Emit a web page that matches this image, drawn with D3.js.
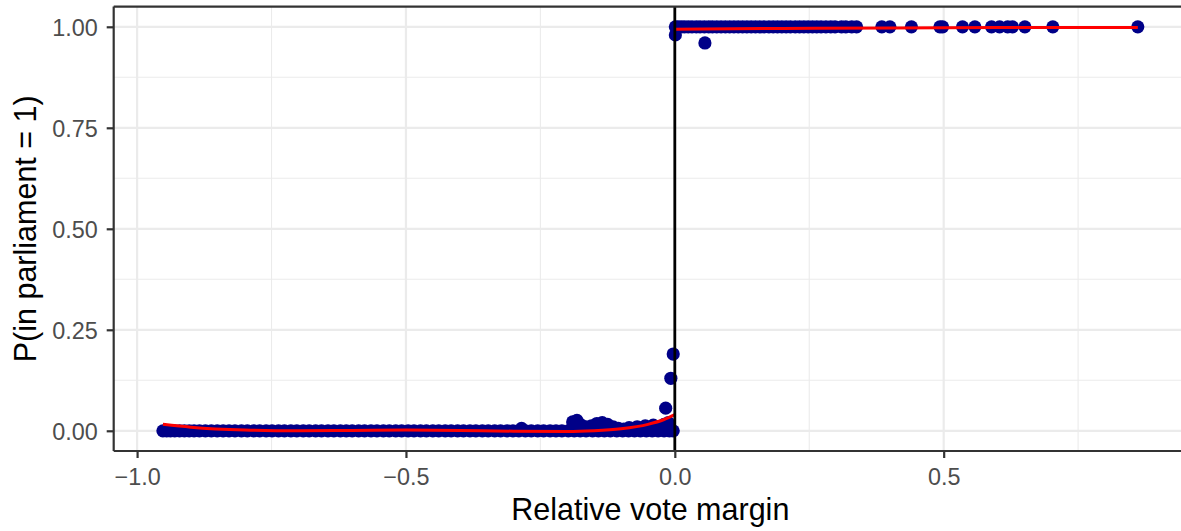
<!DOCTYPE html>
<html><head><meta charset="utf-8">
<script src="https://cdn.jsdelivr.net/npm/d3@7"></script>
<style>html,body{margin:0;padding:0;background:#fff;overflow:hidden}svg{display:block}</style>
</head><body>
<svg id="c" width="1181" height="531" style="overflow:hidden"></svg>
<script>
// ---- data ----
const xTicks = [-1.0, -0.5, 0.0, 0.5];
const xTickLabels = ["\u22121.0", "\u22120.5", "0.0", "0.5"];
const xMinor = [-0.75, -0.25, 0.25, 0.75];
const yTicks = [0, 0.25, 0.5, 0.75, 1];
const yTickLabels = ["0.00", "0.25", "0.50", "0.75", "1.00"];
const yMinor = [0.125, 0.375, 0.625, 0.875];

// losers (not in parliament), outcome 0
const loserMargin = [-0.952,-0.945,-0.938,-0.93,-0.921,-0.912,-0.903,-0.894,-0.884,-0.873,-0.862,-0.851,-0.84,-0.829,-0.818,-0.806,-0.795,-0.783,-0.772,-0.76,-0.749,-0.737,-0.726,-0.714,-0.703,-0.691,-0.68,-0.668,-0.657,-0.645,-0.634,-0.622,-0.611,-0.6,-0.588,-0.577,-0.565,-0.554,-0.542,-0.531,-0.519,-0.508,-0.496,-0.485,-0.473,-0.462,-0.45,-0.439,-0.427,-0.416,-0.404,-0.393,-0.381,-0.37,-0.358,-0.347,-0.335,-0.324,-0.312,-0.301,-0.29,-0.278,-0.267,-0.255,-0.244,-0.232,-0.221,-0.21,-0.198,-0.187,-0.176,-0.165,-0.153,-0.142,-0.131,-0.12,-0.108,-0.097,-0.086,-0.075,-0.064,-0.053,-0.042,-0.031,-0.02,-0.01,-0.003];
// binned points below threshold with non-zero share
const lowBinMargin = [-0.285,-0.19,-0.182,-0.175,-0.165,-0.155,-0.145,-0.135,-0.125,-0.115,-0.105,-0.095,-0.085,-0.07,-0.055,-0.04,-0.03,-0.02,-0.012,-0.017,-0.0074,-0.003];
const lowBinProb   = [0.006,0.022,0.026,0.015,0.01,0.012,0.018,0.02,0.016,0.01,0.006,0.004,0.008,0.01,0.012,0.014,0.01,0.016,0.02,0.056,0.13,0.19];
// winners, outcome 1
const winnerMargin = [0.001,0.006,0.012,0.018,0.025,0.032,0.04,0.047,0.055,0.063,0.07,0.078,0.086,0.094,0.102,0.11,0.118,0.126,0.134,0.142,0.15,0.158,0.166,0.175,0.183,0.191,0.199,0.207,0.215,0.224,0.232,0.24,0.248,0.256,0.264,0.272,0.281,0.29,0.298,0.31,0.318,0.329,0.338,0.385,0.4,0.44,0.493,0.498,0.535,0.558,0.589,0.604,0.619,0.628,0.651,0.703,0.861];
const highBinMargin = [0.001, 0.056];
const highBinProb   = [0.98, 0.96];

// fitted curves
const fitLeftX  = [-0.952,-0.9,-0.8,-0.7,-0.6,-0.5,-0.4,-0.3,-0.2,-0.15,-0.1,-0.05,-0.02,0];
const fitLeftY  = [0.016,0.009,0.002,0.0,0.001,0.002,0.001,-0.001,-0.002,0.0,0.005,0.016,0.028,0.04];
const fitRightX = [0, 0.2, 0.4, 0.6, 0.861];
const fitRightY = [0.994, 0.996, 0.997, 0.998, 0.998];

// ---- layout ----
const svg = d3.select("#c");
const L = 113.7, R = 1187, T = 6.6, B = 451, W = 1181;
const x = d3.scaleLinear().domain([-1.0435, 0.9525]).range([L, R]);
const y = d3.scaleLinear().domain([-0.05, 1.05]).range([B, T]);
const font = "'Liberation Sans', Arial, Helvetica, sans-serif";

svg.append("clipPath").attr("id","pc").append("rect")
  .attr("x", L).attr("y", T).attr("width", W-L).attr("height", B-T);
const panel = svg.append("g").attr("clip-path","url(#pc)");

// grid
panel.selectAll(".xmin").data(xMinor).join("line")
  .attr("x1", d=>x(d)).attr("x2", d=>x(d)).attr("y1", T).attr("y2", B)
  .attr("stroke", "#EBEBEB").attr("stroke-width", 1.1);
panel.selectAll(".ymin").data(yMinor).join("line")
  .attr("y1", d=>y(d)).attr("y2", d=>y(d)).attr("x1", L).attr("x2", W)
  .attr("stroke", "#EBEBEB").attr("stroke-width", 1.1);
panel.selectAll(".xmaj").data(xTicks).join("line")
  .attr("x1", d=>x(d)).attr("x2", d=>x(d)).attr("y1", T).attr("y2", B)
  .attr("stroke", "#EBEBEB").attr("stroke-width", 2.2);
panel.selectAll(".ymaj").data(yTicks).join("line")
  .attr("y1", d=>y(d)).attr("y2", d=>y(d)).attr("x1", L).attr("x2", W)
  .attr("stroke", "#EBEBEB").attr("stroke-width", 2.2);

// points
const pts = [];
loserMargin.forEach(m => pts.push([m, 0]));
lowBinMargin.forEach((m,i) => pts.push([m, lowBinProb[i]]));
winnerMargin.forEach(m => pts.push([m, 1]));
highBinMargin.forEach((m,i) => pts.push([m, highBinProb[i]]));
panel.selectAll(".pt").data(pts).join("circle")
  .attr("cx", d=>x(d[0])).attr("cy", d=>y(d[1])).attr("r", 6.6)
  .attr("fill", "#000088");

// fitted lines
const line = d3.line().x(d=>x(d[0])).y(d=>y(d[1])).curve(d3.curveMonotoneX);
panel.append("path").datum(fitLeftX.map((v,i)=>[v, fitLeftY[i]]))
  .attr("d", line).attr("fill","none").attr("stroke","#FF0000").attr("stroke-width", 3);
panel.append("path").datum(fitRightX.map((v,i)=>[v, fitRightY[i]]))
  .attr("d", line).attr("fill","none").attr("stroke","#FF0000").attr("stroke-width", 3);

// threshold line
panel.append("line").attr("x1", x(0)).attr("x2", x(0)).attr("y1", T).attr("y2", B)
  .attr("stroke", "#000").attr("stroke-width", 2.8);

// border (right side lies outside the window)
const border = [[L,T,W,T],[L,T,L,B],[L,B,W,B]];
svg.selectAll(".bd").data(border).join("line")
  .attr("x1", d=>d[0]).attr("y1", d=>d[1]).attr("x2", d=>d[2]).attr("y2", d=>d[3])
  .attr("stroke","#333333").attr("stroke-width", 2.2);

// axes
const xAxis = svg.append("g").attr("transform", `translate(0,${B})`)
  .call(d3.axisBottom(x).tickValues(xTicks).tickSize(7).tickPadding(4)
        .tickFormat((d,i)=>xTickLabels[i]));
const yAxis = svg.append("g").attr("transform", `translate(${L},0)`)
  .call(d3.axisLeft(y).tickValues(yTicks).tickSize(7).tickPadding(5)
        .tickFormat((d,i)=>yTickLabels[i]));
[xAxis, yAxis].forEach(a => {
  a.select(".domain").remove();
  a.selectAll(".tick line").attr("stroke", "#333333").attr("stroke-width", 2.2);
  a.selectAll(".tick text").attr("fill", "#4D4D4D").style("font-family", font).style("font-size", "23.4px");
});
xAxis.selectAll(".tick text").attr("dy", null).attr("y", 33.5);
yAxis.selectAll(".tick text").attr("dy", "0.35em").attr("x", -16);

// titles
svg.append("text").attr("x", (L+R)/2).attr("y", 520).attr("text-anchor","middle")
  .style("font-family", font).style("font-size","30.5px").attr("fill","#000")
  .text("Relative vote margin");
svg.append("text").attr("transform", `translate(36,${(T+B)/2}) rotate(-90)`).attr("text-anchor","middle")
  .style("font-family", font).style("font-size","30.5px").attr("fill","#000")
  .text("P(in parliament = 1)");
</script>
</body></html>
